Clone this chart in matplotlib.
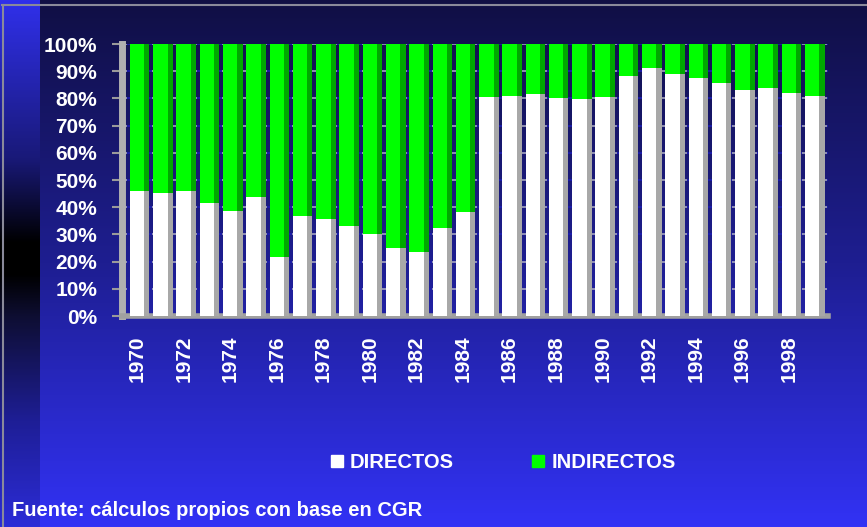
import numpy as np
import matplotlib
matplotlib.use("Agg")
import matplotlib.pyplot as plt
from matplotlib.lines import Line2D

# share of DIRECTOS in total (percent); INDIRECTOS is the rest
years = list(range(1970, 2000))
directos = [45.8, 45.1, 45.8, 41.4, 38.6, 43.9, 21.8, 36.9, 35.5, 33.1,
            30.0, 25.1, 23.6, 32.5, 38.3, 80.6, 80.8, 81.7, 80.2, 79.8,
            80.6, 88.2, 91.1, 89.0, 87.6, 85.7, 83.0, 83.9, 81.9, 80.7]
indirectos = [100 - d for d in directos]
y_ticks = list(range(0, 101, 10))
y_labels = [f"{t}%" for t in y_ticks]

plt.rcParams['font.family'] = ['Liberation Sans', 'DejaVu Sans']
plt.rcParams['font.weight'] = 'bold'

W, H = 867, 527
fig = plt.figure(figsize=(W / 100, H / 100), dpi=100)

# background gradient
bg = fig.add_axes([0, 0, 1, 1], zorder=-10)
t = np.linspace(0, 1, H)
main = np.stack([np.interp(t, [0, 0.5, 1], [16, 30, 50]),
                 np.interp(t, [0, 0.5, 1], [15, 30, 50]),
                 np.interp(t, [0, 0.5, 1], [68, 145, 245])], axis=1)
strip = np.stack([np.interp(t, [0, 0.3, 0.46, 0.52, 0.6, 0.8, 1], [48, 25, 0, 0, 14, 30, 44]),
                  np.interp(t, [0, 0.3, 0.46, 0.52, 0.6, 0.8, 1], [48, 25, 0, 0, 14, 30, 44]),
                  np.interp(t, [0, 0.3, 0.46, 0.52, 0.6, 0.8, 1], [235, 120, 0, 0, 50, 150, 215])], axis=1)
img = np.repeat(main[:, None, :], W, axis=1)
img[:, :40, :] = strip[:, None, :]
bg.imshow(img.astype(np.uint8), extent=[0, W, H, 0], aspect='auto')
bg.plot([2, W], [5, 5], color='#8a8a9a', lw=1.5)
bg.plot([3, 3], [5, H], color='#8a8a9a', lw=1.5)
bg.set_xlim(0, W)
bg.set_ylim(H, 0)
bg.axis('off')

ax = fig.add_axes([122 / W, 1 - 316 / H, 706 / W, 272 / H])
ax.set_facecolor('none')
x = np.arange(len(years))
bw = 0.62
dw = 0.22
ax.bar(x, directos, width=bw, color='white', zorder=3)
ax.bar(x, indirectos, bottom=directos, width=bw, color='#00ff00', zorder=3)
# side faces for depth
ax.bar(x + bw / 2 + dw / 2, directos, width=dw, color='#a8a8a8', zorder=3)
ax.bar(x + bw / 2 + dw / 2, indirectos, bottom=directos, width=dw, color='#00a800', zorder=3)

ax.set_xlim(-0.65, 29.68)
ax.set_ylim(0, 100)
ax.set_yticks(y_ticks)
ax.set_yticklabels(y_labels, color='white', fontsize=15, fontweight='bold')
ax.set_xticks(x[::2])
ax.set_xticklabels([str(y) for y in years[::2]], rotation=90, color='white',
                   fontsize=15, fontweight='bold')
ax.tick_params(axis='y', colors='#9a9a9a', labelcolor='white', length=7, width=1.5, pad=11)
ax.tick_params(axis='x', length=0, pad=14, labelcolor='white')
for y in y_ticks[1:]:
    ax.axhline(y, color='#a4a4c0', lw=1.2, ls=(0, (3, 3)), zorder=1)
    ax.axhline(y, color='#1c1cb0', lw=1.2, ls=(3, (3, 3)), zorder=1)
for s in ['top', 'right']:
    ax.spines[s].set_visible(False)
ax.spines['left'].set_color('#b0b0b0')
ax.spines['left'].set_linewidth(5)
ax.spines['bottom'].set_color('#a0a0a0')
ax.spines['bottom'].set_linewidth(4)

handles = [Line2D([], [], marker='s', ls='none', color='white', markersize=9),
           Line2D([], [], marker='s', ls='none', color='#00ff00', markersize=9)]
fig.legend(handles, ['DIRECTOS', 'INDIRECTOS'], loc='center', ncol=2,
           bbox_to_anchor=(503 / W, 1 - 463 / H), frameon=False,
           handlelength=0.6, handletextpad=0.35, columnspacing=3.9,
           prop={'size': 14.5, 'weight': 'bold'}, labelcolor='white')

fig.text(12 / W, 1 - 510 / H, 'Fuente: cálculos propios con base en CGR',
         color='white', fontsize=14.5, fontweight='bold', va='center', ha='left')

fig.savefig('out.png', dpi=100)
